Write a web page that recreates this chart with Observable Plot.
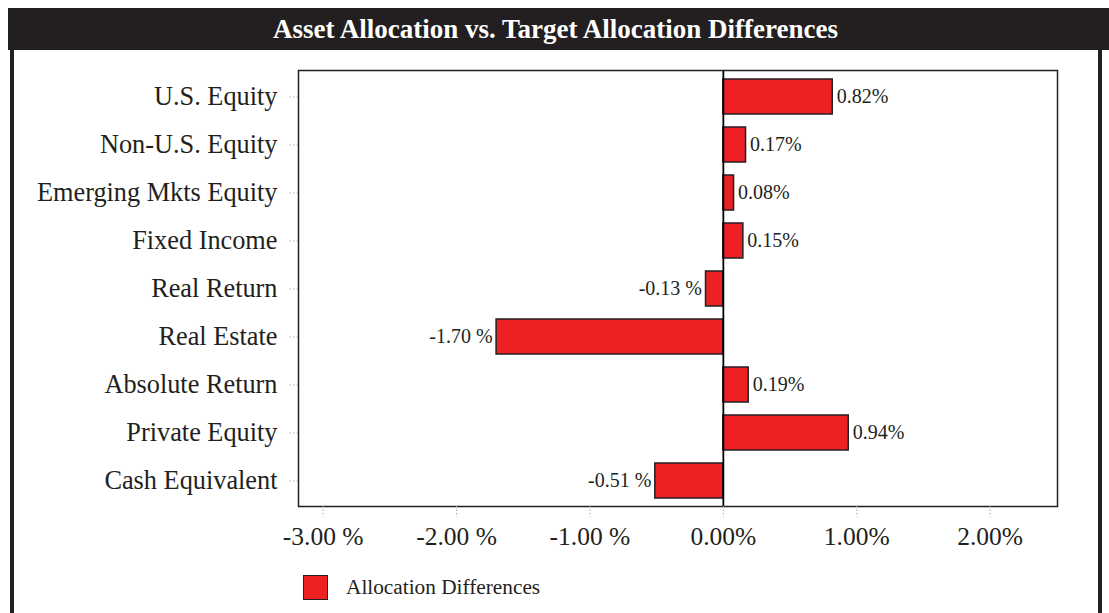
<!DOCTYPE html>
<html>
<head>
<meta charset="utf-8">
<script src="https://cdn.jsdelivr.net/npm/d3@7"></script>
<script src="https://cdn.jsdelivr.net/npm/@observablehq/plot@0.6"></script>
<style>
  body { margin: 0; background: #fff; font-family: "Liberation Serif", "Times New Roman", serif; }
  #wrap { position: relative; width: 1109px; height: 613px; overflow: hidden; background: #fff; }
  #title { position: absolute; left: 8px; top: 8px; width: 1101px; height: 42px; background: #231f20; color: #fff;
           font-weight: bold; font-size: 27px; line-height: 43px; text-align: center; white-space: nowrap; text-indent: -6px; }
  .border { position: absolute; top: 50px; width: 4px; height: 563px; background: #231f20; }
  #chart { position: absolute; left: 0; top: 50px; }
  #legend { position: absolute; left: 303px; top: 574px; height: 26px; display: flex; align-items: center; }
  #legend .sw { width: 23px; height: 23px; background: #ed2024; border: 1.5px solid #231f20; }
  #legend .lb { margin-left: 18px; font-size: 21.3px; color: #231f20; }
</style>
</head>
<body>
<div id="wrap">
  <div id="title">Asset Allocation vs. Target Allocation Differences</div>
  <div class="border" style="left:10px"></div>
  <div class="border" style="left:1098px"></div>
  <div id="chart"></div>
  <div id="legend"><div class="sw"></div><div class="lb">Allocation Differences</div></div>
</div>
<script>
const categories = ["U.S. Equity", "Non-U.S. Equity", "Emerging Mkts Equity", "Fixed Income", "Real Return",
                    "Real Estate", "Absolute Return", "Private Equity", "Cash Equivalent"];
const values = [0.82, 0.17, 0.08, 0.15, -0.13, -1.70, 0.19, 0.94, -0.51];
const xTicks = [-3, -2, -1, 0, 1, 2];
const xTickLabels = ["-3.00 %", "-2.00 %", "-1.00 %", "0.00%", "1.00%", "2.00%"];

const fmt = v => v < 0 ? v.toFixed(2) + " %" : v.toFixed(2) + "%";
const data = categories.map((c, i) => ({cat: c, v: values[i]}));

const plot = Plot.plot({
  width: 1109, height: 520,
  marginLeft: 298, marginRight: 52, marginTop: 20, marginBottom: 64,
  style: {fontFamily: "'Liberation Serif', 'Times New Roman', serif", background: "transparent", color: "#231f20"},
  x: {domain: [-3.185, 2.505]},
  y: {domain: categories, paddingInner: 0.28, paddingOuter: 0.12},
  marks: [
    Plot.barX(data, {x: "v", y: "cat", fill: "#ed2024", stroke: "#231f20", strokeWidth: 1.5}),
    Plot.ruleX([0], {stroke: "#000", strokeWidth: 1.8}),
    Plot.frame({stroke: "#231f20", strokeWidth: 1.5}),
    Plot.text(data.filter(d => d.v >= 0), {x: "v", y: "cat", text: d => fmt(d.v), textAnchor: "start", dx: 4, fontSize: 20, fill: "#231f20"}),
    Plot.text(data.filter(d => d.v < 0), {x: "v", y: "cat", text: d => fmt(d.v), textAnchor: "end", dx: -4, fontSize: 20, fill: "#231f20"}),
    Plot.axisX({ticks: xTicks, tickFormat: d => xTickLabels[xTicks.indexOf(d)], tickSize: 11, tickPadding: 9,
                fontSize: 25.5, stroke: "#aaa", strokeDasharray: "1.5,2", fill: "#231f20", label: null}),
    Plot.axisY({tickSize: 10, tickPadding: 11, fontSize: 26.3, stroke: "#aaa", strokeDasharray: "1.5,2", fill: "#231f20", label: null})
  ]
});
document.getElementById("chart").appendChild(plot);
</script>
</body>
</html>
